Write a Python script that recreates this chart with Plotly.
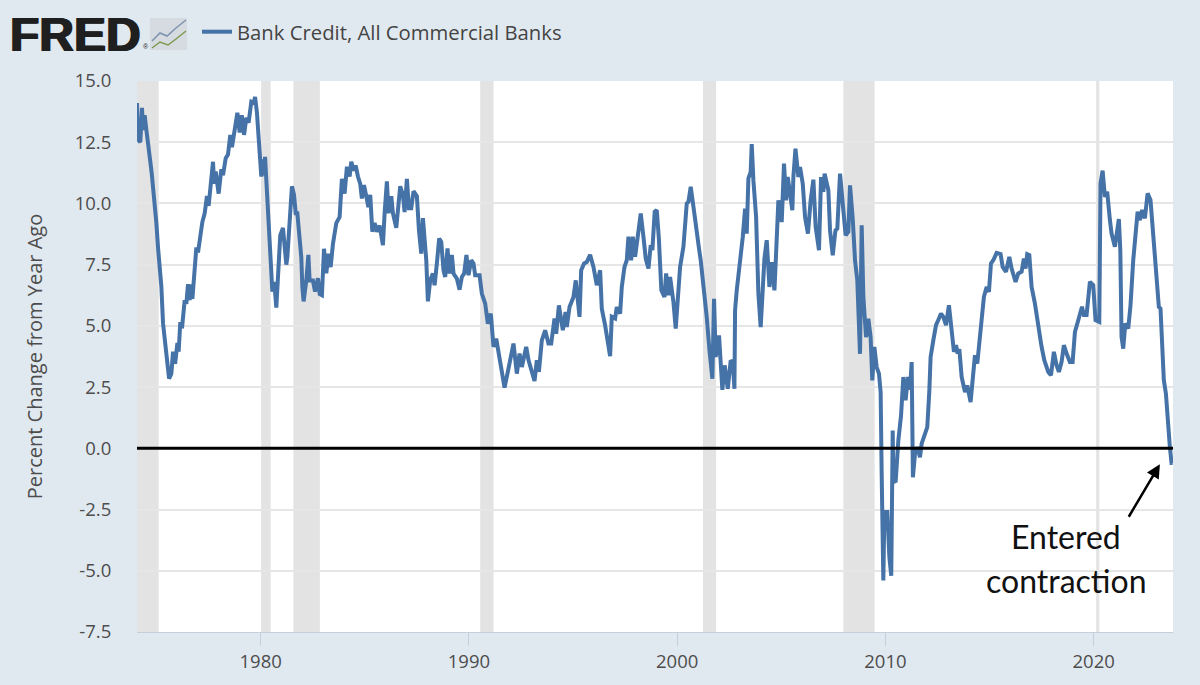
import plotly.graph_objects as go

years = [
    1974.06, 1974.11, 1974.22, 1974.30, 1974.35, 1974.43, 1974.51, 1974.64, 1974.70, 1974.77, 1974.83, 1974.91, 1974.99,
    1975.07, 1975.15, 1975.23, 1975.31, 1975.47, 1975.60, 1975.71, 1975.79, 1975.89,
    1976.00, 1976.06, 1976.14, 1976.22, 1976.35, 1976.43, 1976.51, 1976.59, 1976.64, 1976.72, 1976.83, 1976.91, 1976.99,
    1977.10, 1977.20, 1977.31, 1977.42, 1977.50, 1977.60, 1977.71, 1977.76, 1977.84, 1977.98,
    1978.11, 1978.19, 1978.32, 1978.43, 1978.54, 1978.62, 1978.78, 1978.88, 1978.99,
    1979.09, 1979.20, 1979.31, 1979.42, 1979.55, 1979.66, 1979.73, 1979.82, 1979.95,
    1980.03, 1980.11, 1980.16, 1980.21, 1980.30, 1980.43, 1980.56, 1980.65, 1980.75, 1980.83, 1980.94,
    1981.07, 1981.15, 1981.23, 1981.28, 1981.39, 1981.50, 1981.60, 1981.68, 1981.76, 1981.87, 1981.95,
    1982.00, 1982.06, 1982.19, 1982.29, 1982.35, 1982.51, 1982.61, 1982.75, 1982.83, 1982.94,
    1983.04, 1983.15, 1983.26, 1983.36, 1983.47, 1983.63, 1983.79, 1983.90,
    1984.03, 1984.14, 1984.27, 1984.35, 1984.46, 1984.56, 1984.67, 1984.78, 1984.86, 1984.96,
    1985.07, 1985.17, 1985.26, 1985.36, 1985.47, 1985.58, 1985.71, 1985.87, 1985.95,
    1986.06, 1986.14, 1986.27, 1986.35, 1986.51, 1986.70, 1986.83, 1986.91,
    1987.02, 1987.12, 1987.23, 1987.34, 1987.50, 1987.60, 1987.71, 1987.79, 1987.87, 1987.95,
    1988.03, 1988.14, 1988.27, 1988.35, 1988.46, 1988.57, 1988.67, 1988.78, 1988.86, 1988.97,
    1989.07, 1989.18, 1989.26, 1989.42, 1989.55, 1989.66, 1989.77, 1989.88, 1989.98,
    1990.11, 1990.22, 1990.30, 1990.51, 1990.62, 1990.78, 1990.91,
    1991.05, 1991.18, 1991.31, 1991.47, 1991.58, 1991.71, 1991.85,
    1992.01, 1992.14, 1992.30, 1992.43, 1992.54, 1992.75, 1992.86,
    1993.02, 1993.15, 1993.26, 1993.36, 1993.50, 1993.66, 1993.82, 1993.95,
    1994.11, 1994.19, 1994.32, 1994.51, 1994.64, 1994.70, 1994.83,
    1995.02, 1995.13, 1995.21, 1995.31, 1995.39, 1995.53, 1995.66, 1995.82, 1995.98,
    1996.14, 1996.30, 1996.38, 1996.54, 1996.67, 1996.78, 1996.86,
    1997.02, 1997.10, 1997.26, 1997.34, 1997.47, 1997.58, 1997.66, 1997.79, 1997.87, 1997.98,
    1998.09, 1998.25, 1998.38, 1998.49, 1998.62, 1998.73, 1998.81, 1998.92,
    1999.02, 1999.12, 1999.24, 1999.39, 1999.47, 1999.58, 1999.66, 1999.82, 1999.93,
    2000.03, 2000.14, 2000.30, 2000.38, 2000.46, 2000.54, 2000.65, 2000.75, 2000.91,
    2001.05, 2001.13, 2001.26, 2001.31, 2001.42, 2001.55, 2001.69, 2001.77, 2001.85,
    2002.01, 2002.17, 2002.28, 2002.43, 2002.57, 2002.67, 2002.75, 2002.78, 2002.86, 2002.99,
    2003.15, 2003.26, 2003.34, 2003.42, 2003.53, 2003.58, 2003.66, 2003.79, 2003.90,
    2004.01, 2004.11, 2004.19, 2004.30, 2004.43, 2004.54, 2004.67, 2004.75, 2004.86,
    2005.02, 2005.13, 2005.23, 2005.31, 2005.53, 2005.58, 2005.68, 2005.82, 2005.90,
    2006.03, 2006.14, 2006.28, 2006.41, 2006.54, 2006.65, 2006.81, 2006.91,
    2007.02, 2007.08, 2007.26, 2007.34, 2007.47, 2007.60, 2007.69, 2007.82, 2007.95,
    2008.09, 2008.22, 2008.30, 2008.43, 2008.54, 2008.65, 2008.78, 2008.86, 2008.94,
    2009.07, 2009.18, 2009.29, 2009.37, 2009.47, 2009.58, 2009.69, 2009.77, 2009.82, 2009.90, 2009.95,
    2010.09, 2010.19, 2010.28, 2010.35, 2010.38, 2010.49, 2010.62, 2010.75, 2010.86, 2010.97,
    2011.08, 2011.18, 2011.26, 2011.32, 2011.42, 2011.53, 2011.66, 2011.74,
    2012.01, 2012.11, 2012.17, 2012.30, 2012.43, 2012.57, 2012.67, 2012.78, 2012.91,
    2013.05, 2013.15, 2013.29, 2013.39, 2013.47, 2013.55, 2013.66, 2013.82, 2013.93,
    2014.09, 2014.22, 2014.30, 2014.41, 2014.54, 2014.62, 2014.73, 2014.86, 2014.97,
    2015.07, 2015.18, 2015.34, 2015.53, 2015.63, 2015.79, 2015.95,
    2016.06, 2016.25, 2016.38, 2016.54, 2016.65, 2016.73, 2016.81, 2016.91,
    2017.02, 2017.18, 2017.34, 2017.50, 2017.63, 2017.82, 2017.95,
    2018.09, 2018.22, 2018.33, 2018.46, 2018.57, 2018.70, 2018.86, 2018.99,
    2019.10, 2019.26, 2019.44, 2019.53, 2019.66, 2019.82, 2019.98,
    2020.09, 2020.20, 2020.27, 2020.33, 2020.43, 2020.54, 2020.65, 2020.78, 2020.86,
    2021.02, 2021.13, 2021.21, 2021.28, 2021.34, 2021.42, 2021.52, 2021.66, 2021.77, 2021.90,
    2022.03, 2022.11, 2022.22, 2022.33, 2022.46, 2022.59, 2022.73, 2022.81, 2022.94,
    2023.02, 2023.13, 2023.21, 2023.31, 2023.37, 2023.47, 2023.58, 2023.66, 2023.74, 2023.79,
]
credit_yoy = [
    14.1, 12.6, 12.5, 13.9, 13.0, 13.6, 13.0, 12.25, 11.7, 11.2, 10.7, 9.9, 9.2,
    8.2, 7.4, 6.6, 5.1, 4.0, 2.85, 3.05, 3.95, 3.45,
    4.3, 3.95, 5.15, 4.9, 6.05, 5.9, 6.7, 6.05, 6.7, 6.1, 7.55, 8.2, 8.0,
    8.75, 9.25, 9.6, 10.3, 9.9, 11.0, 11.7, 10.8, 11.3, 10.4,
    11.4, 11.15, 11.85, 12.0, 12.8, 12.3, 13.3, 13.7, 12.9,
    13.6, 12.8, 13.5, 13.3, 14.15, 14.1, 14.35, 13.7, 11.8,
    11.1, 11.8, 11.15, 11.9, 10.4, 8.5, 6.4, 6.8, 5.75, 7.0, 8.7,
    9.0, 7.95, 7.5, 7.8, 9.6, 10.7, 10.35, 9.6, 9.6, 8.65, 7.8,
    6.6, 6.0, 6.85, 7.9, 6.85, 6.85, 6.4, 6.95, 6.3, 6.25,
    8.15, 7.15, 7.95, 7.4, 8.35, 9.2, 9.45, 11.0,
    10.4, 11.5, 11.1, 11.7, 11.35, 11.55, 11.1, 10.8, 10.2, 10.75,
    10.3, 9.85, 10.35, 8.85, 9.2, 8.85, 9.1, 8.3, 9.6,
    10.9, 9.6, 10.3, 9.6, 9.0, 10.7, 10.35, 9.65,
    11.0, 9.8, 9.8, 10.5, 10.3, 8.9, 7.95, 9.4, 8.5, 7.7,
    6.0, 6.86, 7.14, 6.66, 7.55, 8.57, 8.43, 7.27, 7.0, 8.16,
    7.14, 7.9, 7.14, 6.93, 6.48, 7.0, 7.14, 7.9, 7.07,
    7.68, 7.55, 7.07, 7.07, 6.32, 5.91, 5.09,
    5.5, 4.14, 4.48, 3.6, 3.05, 2.48, 3.05,
    3.66, 4.28, 3.05, 3.87, 3.32, 4.14, 3.6,
    3.19, 2.75, 3.6, 3.12, 4.41, 4.82, 4.28, 4.28,
    5.3, 4.68, 5.84, 4.82, 5.57, 4.96, 5.77,
    6.18, 6.86, 5.98, 5.37, 7.27, 7.55, 7.61, 7.9, 7.41,
    6.66, 7.27, 5.7, 5.02, 4.21, 3.76, 5.37,
    5.3, 5.77, 5.5, 6.59, 7.41, 7.68, 8.64, 7.68, 8.64, 7.82,
    8.57, 9.59, 8.64, 7.75, 7.34, 8.3, 8.09, 9.66,
    9.73, 8.57, 6.45, 6.18, 7.14, 6.25, 7.0, 5.98, 4.89,
    6.32, 7.41, 8.23, 9.04, 10.0, 10.06, 10.68, 10.06, 8.9,
    8.15, 7.68, 6.72, 6.11, 5.36, 4.0, 2.84, 6.11, 3.73,
    4.61, 2.39, 3.39, 2.43, 3.59, 3.52, 2.43, 5.63, 6.45, 7.4,
    8.63, 9.79, 8.77, 11.02, 11.29, 12.42, 10.95, 9.45, 6.32,
    4.95, 6.72, 7.75, 8.5, 6.59, 7.6, 6.45, 7.95, 10.13,
    9.24, 11.63, 10.13, 11.08, 9.72, 11.08, 12.24, 11.08, 11.49,
    10.81, 9.45, 8.77, 10.13, 10.97, 9.04, 8.09, 11.08,
    10.47, 11.22, 10.54, 8.9, 7.88, 8.9, 8.97, 11.22, 9.86,
    8.7, 8.84, 10.74, 9.38, 7.68, 6.86, 3.86, 9.11, 6.18,
    4.54, 5.29, 4.54, 2.77, 4.14, 3.32, 3.05, 2.3, -1.0, -5.4, -2.6,
    -2.6, -4.45, -5.2, 0.73, -1.31, -1.38, 0.32, 1.34, 2.91, 1.96,
    2.91, 2.4, 3.52, -1.18, -0.22, 0.05, -0.36, 0.19,
    0.87, 2.37, 3.73, 4.41, 5.03, 5.3, 5.5, 5.37, 5.03,
    5.84, 4.96, 3.94, 4.21, 3.87, 4.05, 2.92, 2.3, 2.57,
    1.89, 3.12, 3.8, 3.46, 4.55, 5.3, 6.19, 6.59, 6.39,
    7.55, 7.68, 7.98, 7.93, 7.41, 7.21, 7.82,
    7.34, 6.8, 7.14, 7.21, 7.75, 7.34, 7.93, 7.89,
    6.59, 5.91, 4.96, 4.14, 3.6, 3.12, 2.98,
    3.94, 3.39, 3.12, 3.53, 4.21, 3.87, 3.53, 3.53,
    4.75, 5.23, 5.78, 5.44, 5.44, 6.8, 6.66,
    5.23, 5.16, 5.16, 10.82, 11.34, 10.27, 10.48, 9.32, 8.77,
    8.23, 8.84, 9.36, 8.09, 4.55, 4.07, 5.1, 4.89, 5.85, 7.68,
    8.9, 9.66, 9.32, 9.73, 9.39, 10.41, 10.14, 9.32, 7.55,
    7.07, 5.78, 5.71, 4.14, 2.78, 2.23, 0.74, 0.05, -0.6, -0.6,
]
recession_start = [1974.06, 1980.02, 1981.57, 1990.54, 2001.24, 2007.98, 2020.12]
recession_end = [1975.1, 1980.48, 1982.84, 1991.18, 2001.87, 2009.48, 2020.27]
x_ticks = [1980, 1990, 2000, 2010, 2020]
y_ticks = [-7.5, -5.0, -2.5, 0.0, 2.5, 5.0, 7.5, 10.0, 12.5, 15.0]
y_labels = ["-7.5", "-5.0", "-2.5", "0.0", "2.5", "5.0", "7.5", "10.0", "12.5", "15.0"]

BG = "#e1e9f0"
LINE = "#4572a7"
TEXT = "#4d4d4d"

# plot area in page pixels, used for the logo bits outside the axes
L, R, T, B = 137, 1173, 81, 632


def px(x):
    return (x - L) / (R - L)


def py(y):
    return (B - y) / (B - T)


fig = go.Figure()
fig.add_trace(go.Scatter(
    x=years, y=credit_yoy, mode="lines", name="Bank Credit, All Commercial Banks",
    line=dict(color=LINE, width=4),
))

shapes = []
for s, e in zip(recession_start, recession_end):
    shapes.append(dict(type="rect", xref="x", yref="paper", x0=s, x1=e, y0=0, y1=1,
                       fillcolor="#e3e3e3", line_width=0, layer="below"))
shapes.append(dict(type="line", xref="paper", yref="y", x0=0, x1=1, y0=0, y1=0,
                   line=dict(color="black", width=3)))
# little chart icon beside the logo
shapes.append(dict(type="rect", xref="paper", yref="paper", x0=px(150), x1=px(187), y0=py(50), y1=py(18),
                   fillcolor="#d5dbe0", line_width=0))
shapes.append(dict(type="path", xref="paper", yref="paper",
                   path="M %f %f L %f %f L %f %f L %f %f L %f %f" % (
                       px(152), py(41), px(160), py(33), px(167), py(36), px(176), py(28), px(186), py(20)),
                   line=dict(color="#7d93ad", width=1.5)))
shapes.append(dict(type="path", xref="paper", yref="paper",
                   path="M %f %f L %f %f L %f %f L %f %f L %f %f" % (
                       px(152), py(48), px(160), py(42), px(168), py(45), px(176), py(39), px(186), py(31)),
                   line=dict(color="#7f9a4e", width=1.5)))

annotations = [
    dict(text="<b>FRED</b>", xref="paper", yref="paper", x=px(8), y=py(34), xanchor="left", yanchor="middle",
         showarrow=False,
         font=dict(family="Liberation Sans", size=48, color="#1f1f1f",
                   shadow="1px 0 0 #1f1f1f, -1px 0 0 #1f1f1f")),
    dict(text="®", xref="paper", yref="paper", x=px(146), y=py(47), xanchor="center", yanchor="middle",
         showarrow=False, font=dict(family="Liberation Sans", size=7, color="#1f1f1f")),
    dict(text="Entered", xref="paper", yref="paper", x=px(1066), y=py(536), xanchor="center", yanchor="middle",
         showarrow=False, font=dict(family="Lato", size=32, color="#111111")),
    dict(text="contraction", xref="paper", yref="paper", x=px(1066), y=py(580), xanchor="center", yanchor="middle",
         showarrow=False, font=dict(family="Lato", size=32, color="#111111")),
    dict(text="", x=2023.18, y=-0.65, xref="x", yref="y", ax=-32, ay=54, showarrow=True,
         arrowhead=2, arrowsize=1.1, arrowwidth=2.5, arrowcolor="black"),
]

fig.update_layout(
    width=1200, height=685,
    margin=dict(l=L, r=1200 - R, t=T, b=685 - B),
    paper_bgcolor=BG, plot_bgcolor="white",
    font=dict(family="Open Sans", color=TEXT, size=18),
    shapes=shapes, annotations=annotations,
    showlegend=True,
    legend=dict(x=px(197), y=py(32), xanchor="left", yanchor="middle", bgcolor="rgba(0,0,0,0)",
                font=dict(size=20.3, color="#444444"), itemwidth=30),
)
fig.update_xaxes(
    range=[1974.06, 2023.81], tickvals=x_ticks, showgrid=False, zeroline=False,
    ticks="outside", ticklen=13, tickcolor="#c5cedb", tickwidth=1,
    showline=True, linecolor="#c5cedb", tickfont=dict(size=18.5),
)
fig.update_yaxes(
    range=[-7.5, 15.0], tickvals=y_ticks, ticktext=y_labels, gridcolor="#e6e6e6", gridwidth=1.5, zeroline=False,
    ticks="outside", ticklen=21, tickcolor="rgba(0,0,0,0)", tickfont=dict(size=18.5),
    title=dict(text="Percent Change from Year Ago", font=dict(size=20), standoff=26),
)

fig.write_html("out.html", post_script="document.body.style.margin='0';", config=dict(displayModeBar=False))
